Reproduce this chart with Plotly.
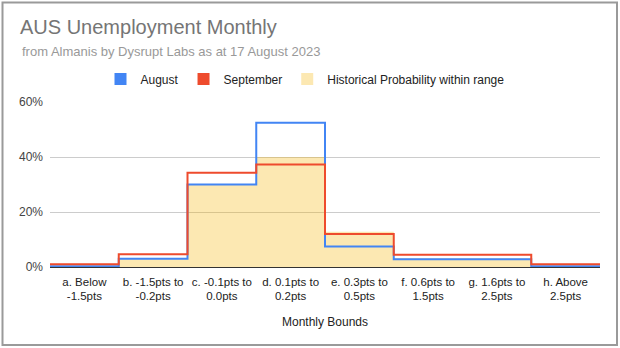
import plotly.graph_objects as go

# ---- data (percent) ----
categories = [
    "a. Below<br>-1.5pts",
    "b. -1.5pts to<br>-0.2pts",
    "c. -0.1pts to<br>0.0pts",
    "d. 0.1pts to<br>0.2pts",
    "e. 0.3pts to<br>0.5pts",
    "f. 0.6pts to<br>1.5pts",
    "g. 1.6pts to<br>2.5pts",
    "h. Above<br>2.5pts",
]
august = [0.3, 3.0, 30.0, 52.5, 7.5, 2.8, 2.8, 0.3]
september = [1.0, 4.6, 34.3, 37.3, 12.0, 4.5, 4.5, 1.0]
historical = [0.0, 3.0, 30.0, 40.0, 12.8, 3.2, 3.2, 0.0]
y_ticks = [0, 20, 40, 60]
y_tick_labels = ["0%", "20%", "40%", "60%"]

FONT = "Liberation Sans, Arial, sans-serif"
BLUE = "#4285f4"
RED = "#ee4b2d"
FILL = "rgba(244,180,0,0.3)"

n = len(categories)
edges = list(range(n + 1))
centers = [i + 0.5 for i in range(n)]


def stepped(vals):
    return vals + [vals[-1]]


fig = go.Figure()

fig.add_trace(go.Scatter(
    x=edges, y=stepped(historical), mode="lines", line_shape="hv",
    line=dict(width=0, color=FILL), fill="tozeroy", fillcolor=FILL,
    showlegend=False, hoverinfo="skip"))
fig.add_trace(go.Scatter(
    x=edges, y=stepped(august), mode="lines", line_shape="hv",
    line=dict(width=2, color=BLUE), showlegend=False))
fig.add_trace(go.Scatter(
    x=edges, y=stepped(september), mode="lines", line_shape="hv",
    line=dict(width=2, color=RED), showlegend=False))

# legend entries (square swatches)
for name, col in [("August", BLUE), ("September", RED),
                  ("Historical Probability within range", FILL)]:
    fig.add_trace(go.Scatter(
        x=[None], y=[None], mode="markers", name=name,
        marker=dict(symbol="square", size=12, color=col)))

L, R, T, B = 50, 20, 102, 81
W, H = 620, 348
pw, ph = W - L - R, H - T - B


def px_x(p):
    return (p - L) / pw


def px_y(p):
    return (H - B - p) / ph


fig.update_layout(
    width=W, height=H,
    margin=dict(l=L, r=R, t=T, b=B, autoexpand=False),
    paper_bgcolor="white", plot_bgcolor="white",
    font=dict(family=FONT, color="#222222"),
    title=dict(text="AUS Unemployment Monthly", x=20 / W, xanchor="left",
               xref="container", y=1 - 27 / H, yanchor="middle",
               yref="container",
               font=dict(size=20, color="#757575", family=FONT)),
    legend=dict(orientation="h", x=305 / W, xanchor="center",
                xref="container", y=1 - 79 / H, yanchor="middle",
                yref="container", font=dict(size=12, color="#222222"),
                itemwidth=30, bgcolor="rgba(0,0,0,0)"),
    showlegend=True,
    xaxis=dict(range=[0, n], tickmode="array", tickvals=centers,
               ticktext=categories, showgrid=False, zeroline=False,
               showline=False, ticks="", ticklabelstandoff=6,
               tickfont=dict(size=11.5, color="#222222"),
               title=dict(text="Monthly Bounds", standoff=16,
                          font=dict(size=12, color="#222222"))),
    yaxis=dict(range=[0, 60], tickmode="array", tickvals=y_ticks,
               ticktext=y_tick_labels, showgrid=True, gridcolor="#cccccc",
               gridwidth=1, zeroline=True, zerolinecolor="#333333",
               zerolinewidth=1, showline=False, ticks="",
               ticklabelstandoff=6,
               tickfont=dict(size=12, color="#444444")),
    annotations=[dict(
        text="from Almanis by Dysrupt Labs as at 17 August 2023",
        xref="paper", yref="paper", x=px_x(20), y=px_y(51),
        xanchor="left", yanchor="middle", showarrow=False,
        font=dict(size=13, color="#999999", family=FONT))],
    shapes=[dict(type="rect", xref="paper", yref="paper",
                 x0=px_x(2.5), x1=px_x(617), y0=px_y(345), y1=px_y(2.5),
                 line=dict(color="#9a9a9a", width=2), layer="above")],
)

fig.write_html("out.html")
